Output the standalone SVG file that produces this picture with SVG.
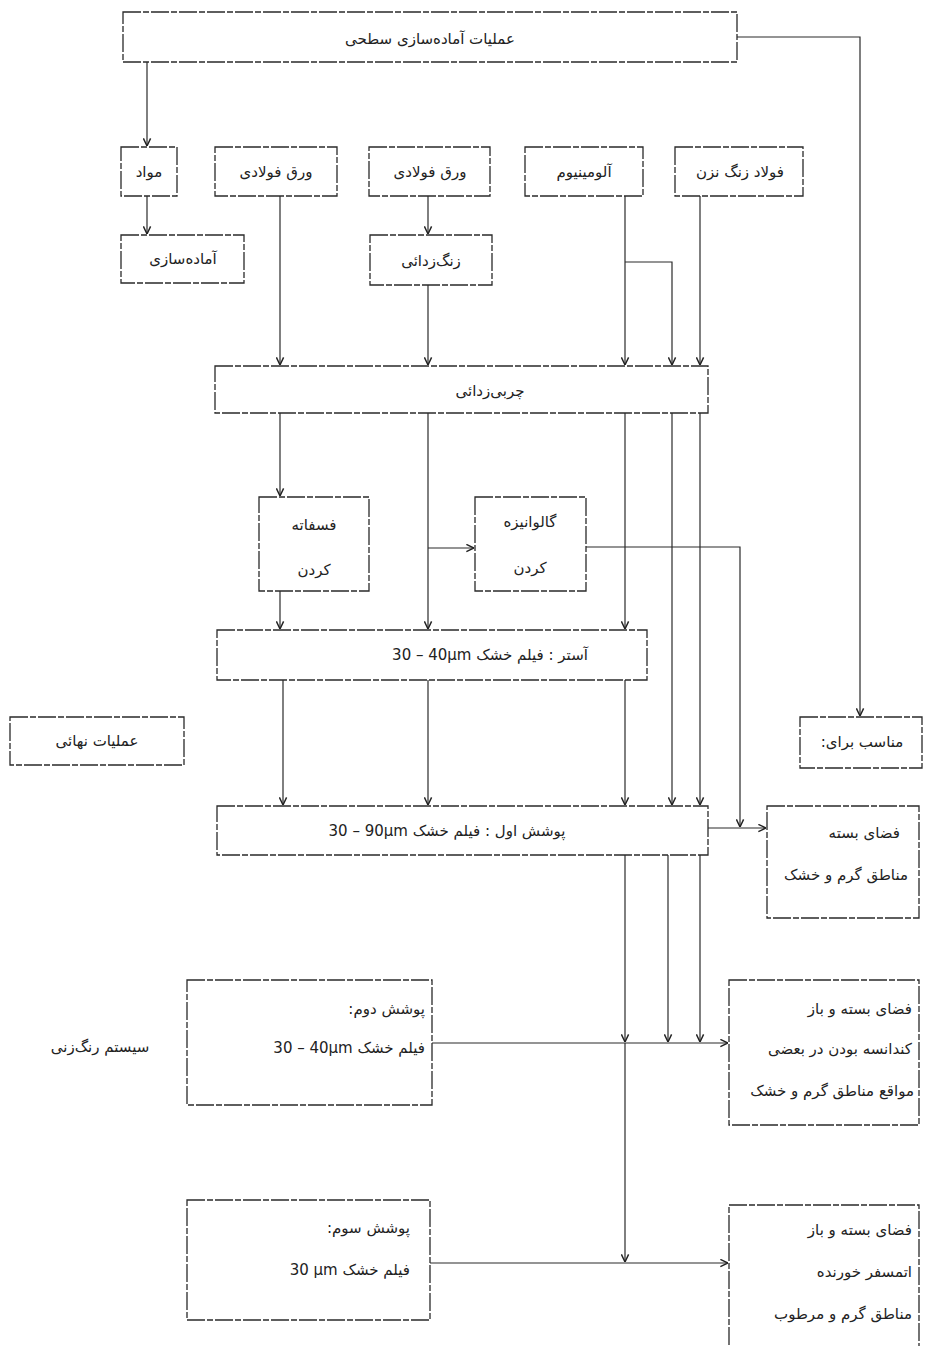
<svg xmlns="http://www.w3.org/2000/svg" width="925" height="1346" viewBox="0 0 925 1346">
<style>
.box{fill:#fff;stroke:#2a2a2a;stroke-width:1.3;stroke-dasharray:18 2 6 2}
.con path{fill:none;stroke:#2a2a2a;stroke-width:1.2}
text{font-family:"DejaVu Sans","Noto Sans",sans-serif;font-size:15px;fill:#222}
</style>
<defs>
<marker id="ah" viewBox="0 0 10 10" refX="9.5" refY="5" markerWidth="9" markerHeight="9" orient="auto" markerUnits="userSpaceOnUse">
<path d="M1,1 L9.5,5 L1,9" fill="none" stroke="#222" stroke-width="1.6"/>
</marker>
</defs>
<rect width="925" height="1346" fill="#fff"/>

<g class="con">
<path d="M737,37 H860 V716" marker-end="url(#ah)"/>
<path d="M147,62 V146" marker-end="url(#ah)"/>
<path d="M147,196 V234" marker-end="url(#ah)"/>
<path d="M428,196 V234" marker-end="url(#ah)"/>
<path d="M280,196 V365" marker-end="url(#ah)"/>
<path d="M428,285 V365" marker-end="url(#ah)"/>
<path d="M625,196 V365" marker-end="url(#ah)"/>
<path d="M625,262 H672 V365" marker-end="url(#ah)"/>
<path d="M700,196 V365" marker-end="url(#ah)"/>
<path d="M280,413 V496" marker-end="url(#ah)"/>
<path d="M280,591 V629" marker-end="url(#ah)"/>
<path d="M428,413 V629" marker-end="url(#ah)"/>
<path d="M428,548 H474" marker-end="url(#ah)"/>
<path d="M586,547 H740 V827" marker-end="url(#ah)"/>
<path d="M625,413 V629" marker-end="url(#ah)"/>
<path d="M672,413 V805" marker-end="url(#ah)"/>
<path d="M700,413 V805" marker-end="url(#ah)"/>
<path d="M283,680 V805" marker-end="url(#ah)"/>
<path d="M428,680 V805" marker-end="url(#ah)"/>
<path d="M625,680 V805" marker-end="url(#ah)"/>
<path d="M708,828 H766" marker-end="url(#ah)"/>
<path d="M625,855 V1042" marker-end="url(#ah)"/>
<path d="M625,1043 V1262" marker-end="url(#ah)"/>
<path d="M668,855 V1042" marker-end="url(#ah)"/>
<path d="M700,855 V1042" marker-end="url(#ah)"/>
<path d="M432,1043 H728" marker-end="url(#ah)"/>
<path d="M430,1263 H728" marker-end="url(#ah)"/>
</g>

<g id="surface-prep"><rect class="box" x="123" y="12" width="614" height="50"/>
<text x="430" y="44" text-anchor="middle" direction="rtl">عملیات آماده&#x200C;سازی سطحی</text></g>

<g id="materials"><rect class="box" x="121" y="147" width="56" height="49"/>
<text x="149" y="177" text-anchor="middle" direction="rtl">مواد</text></g>
<g id="steel-sheet-1"><rect class="box" x="215" y="147" width="122" height="49"/>
<text x="276" y="177" text-anchor="middle" direction="rtl">ورق فولادی</text></g>
<g id="steel-sheet-2"><rect class="box" x="369" y="147" width="121" height="49"/>
<text x="430" y="177" text-anchor="middle" direction="rtl">ورق فولادی</text></g>
<g id="aluminium"><rect class="box" x="525" y="147" width="118" height="49"/>
<text x="584" y="177" text-anchor="middle" direction="rtl">آلومینیوم</text></g>
<g id="stainless"><rect class="box" x="675" y="147" width="128" height="49"/>
<text x="740" y="177" text-anchor="middle" direction="rtl">فولاد زنگ نزن</text></g>

<g id="preparation"><rect class="box" x="121" y="235" width="123" height="48"/>
<text x="183" y="264" text-anchor="middle" direction="rtl">آماده&#x200C;سازی</text></g>
<g id="derusting"><rect class="box" x="370" y="235" width="122" height="50"/>
<text x="431" y="266" text-anchor="middle" direction="rtl">زنگ&#x200C;زدائی</text></g>

<g id="degreasing"><rect class="box" x="215" y="366" width="493" height="47"/>
<text x="490" y="396" text-anchor="middle" direction="rtl">چربی&#x200C;زدائی</text></g>

<g id="phosphating"><rect class="box" x="259" y="497" width="110" height="94"/>
<text x="314" y="530" text-anchor="middle" direction="rtl">فسفاته</text>
<text x="314" y="575" text-anchor="middle" direction="rtl">کردن</text></g>
<g id="galvanizing"><rect class="box" x="475" y="497" width="111" height="94"/>
<text x="530" y="527" text-anchor="middle" direction="rtl">گالوانیزه</text>
<text x="530" y="573" text-anchor="middle" direction="rtl">کردن</text></g>

<g id="primer"><rect class="box" x="217" y="630" width="430" height="50"/>
<text x="490" y="660" text-anchor="middle" direction="rtl">آستر : فیلم خشک &#x2066;30 – 40µm&#x2069;</text></g>

<g id="final-ops"><rect class="box" x="10" y="717" width="174" height="48"/>
<text x="97" y="746" text-anchor="middle" direction="rtl">عملیات نهائی</text></g>
<g id="suitable-for"><rect class="box" x="800" y="717" width="122" height="51"/>
<text x="862" y="747" text-anchor="middle" direction="rtl">مناسب برای:</text></g>

<g id="first-coat"><rect class="box" x="217" y="806" width="491" height="49"/>
<text x="447" y="836" text-anchor="middle" direction="rtl">پوشش اول : فیلم خشک &#x2066;30 – 90µm&#x2069;</text></g>
<g id="env-1"><rect class="box" x="767" y="806" width="152" height="112"/>
<text x="900" y="838" text-anchor="start" direction="rtl">فضای بسته</text>
<text x="908" y="880" text-anchor="start" direction="rtl">مناطق گرم و خشک</text></g>

<g id="paint-system"><text x="100" y="1052" text-anchor="middle" direction="rtl">سیستم رنگ&#x200C;زنی</text></g>

<g id="second-coat"><rect class="box" x="187" y="980" width="245" height="125"/>
<text x="425" y="1014" text-anchor="start" direction="rtl">پوشش دوم:</text>
<text x="425" y="1053" text-anchor="start" direction="rtl">فیلم خشک &#x2066;30 – 40µm&#x2069;</text></g>
<g id="env-2"><rect class="box" x="729" y="980" width="190" height="145"/>
<text x="912" y="1014" text-anchor="start" direction="rtl">فضای بسته و باز</text>
<text x="912" y="1054" text-anchor="start" direction="rtl">کندانسه بودن در بعضی</text>
<text x="914" y="1096" text-anchor="start" direction="rtl">مواقع مناطق گرم و خشک</text></g>

<g id="third-coat"><rect class="box" x="187" y="1200" width="243" height="120"/>
<text x="410" y="1233" text-anchor="start" direction="rtl">پوشش سوم:</text>
<text x="410" y="1275" text-anchor="start" direction="rtl">فیلم خشک &#x2066;30 µm&#x2069;</text></g>
<g id="env-3"><rect class="box" x="729" y="1205" width="190" height="160"/>
<text x="912" y="1235" text-anchor="start" direction="rtl">فضای بسته و باز</text>
<text x="912" y="1277" text-anchor="start" direction="rtl">اتمسفر خورنده</text>
<text x="912" y="1319" text-anchor="start" direction="rtl">مناطق گرم و مرطوب</text></g>
</svg>
